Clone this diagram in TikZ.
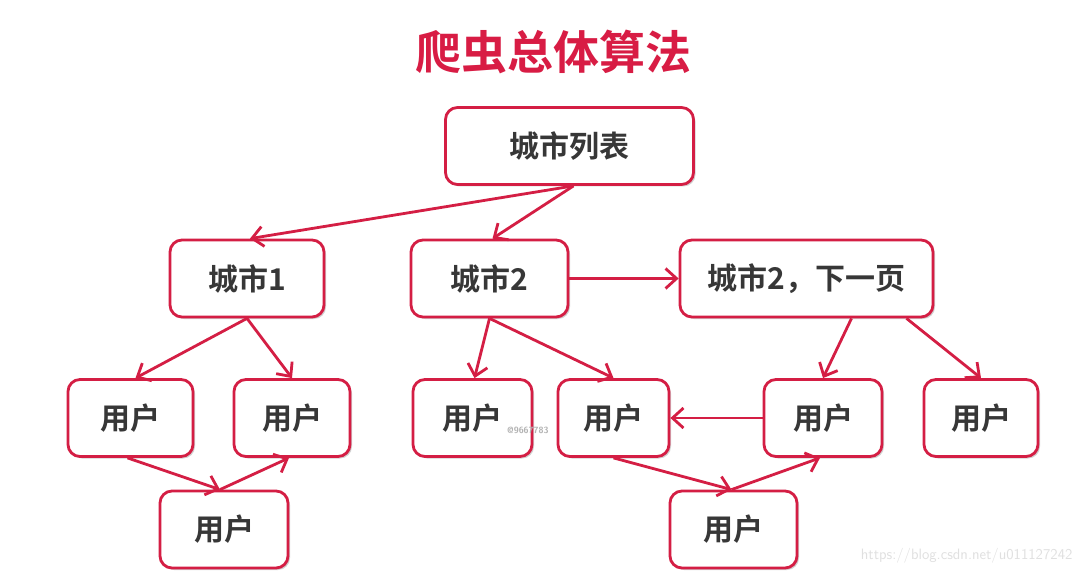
\documentclass[tikz,border=0pt]{standalone}
\usepackage{fontspec}
\newfontfamily\cjk{Noto Sans CJK SC}[BoldFont={Noto Sans CJK SC Bold}]
\usetikzlibrary{arrows.meta,shadows}
\definecolor{crim}{RGB}{212,30,68}
\definecolor{titlered}{RGB}{216,28,68}
\definecolor{txt}{RGB}{55,55,55}
\tikzset{
  box/.style={draw=crim, line width=2.8pt, fill=white, rounded corners=12pt,
    minimum height=77pt, font=\cjk\bfseries\fontsize{30}{33}\selectfont, text=txt,
    drop shadow={shadow xshift=2pt, shadow yshift=-2pt, opacity=0.18, fill=black}},
  conn/.style={draw=crim, line width=2.8pt, -{Straight Barb[length=11pt,width=20pt,line width=2.8pt]}}
}
\begin{document}
\begin{tikzpicture}[x=1pt,y=-1pt]
\useasboundingbox[fill=white] (0,0) rectangle (1084,577);
\node[text=titlered, font=\cjk\bfseries\fontsize{46}{50}\selectfont] (title) at (553,52) {爬虫总体算法};

\node[box, minimum width=248pt] (cl) at (569.5,146) {城市列表};
\node[box, minimum width=154pt] (c1) at (247,278.5) {城市1};
\node[box, minimum width=157pt] (c2) at (489.5,278.5) {城市2};
\node[box, minimum width=253pt] (c2n) at (806.5,278.5) {城市2，下一页};

\node[box, minimum width=125pt] (u1) at (130.5,418) {用户};
\node[box, minimum width=116pt] (u2) at (292,418) {用户};
\node[box, minimum width=119pt] (u3) at (472.5,418) {用户};
\node[box, minimum width=111pt] (u4) at (613.5,418) {用户};
\node[box, minimum width=118pt] (u5) at (823,418) {用户};
\node[box, minimum width=114pt] (u6) at (981,418) {用户};
\node[box, minimum width=128pt] (u7) at (224,529.5) {用户};
\node[box, minimum width=127pt] (u8) at (733.5,529.5) {用户};

\node[text=black!30, font=\sffamily\bfseries\fontsize{9}{11}\selectfont, anchor=west, inner sep=0pt] (wm1) at (507,430) {@9667783};
\node[text=black!12, font=\sffamily\fontsize{15}{18}\selectfont, anchor=east] (wm2) at (1076,556) {https://blog.csdn.net/u011127242};

\draw[conn] ([xshift=4pt]cl.south) -- ([xshift=3pt]c1.north);
\draw[conn] ([xshift=4pt]cl.south) -- ([xshift=3pt]c2.north);
\draw[conn] (c1.south) -- ([xshift=5pt]u1.north);
\draw[conn] (c1.south) -- (u2.north);
\draw[conn] (c2.south) -- ([xshift=2pt]u3.north);
\draw[conn] (c2.south) -- (u4.north);
\draw[conn] (c2.east) -- (c2n.west);
\draw[conn] ([xshift=45pt]c2n.south) -- (u5.north);
\draw[conn] ([xshift=100pt]c2n.south) -- (u6.north);
\draw[conn] (u5.west) -- (u4.east);
\draw[conn] ([xshift=-3pt]u1.south) -- ([xshift=-4pt]u7.north);
\draw[conn] ([xshift=-4pt]u7.north) -- ([xshift=-3pt]u2.south);
\draw[conn] ([xshift=0pt]u4.south) -- ([xshift=-2pt]u8.north);
\draw[conn] ([xshift=-2pt]u8.north) -- ([xshift=-3pt]u5.south);
\end{tikzpicture}
\end{document}
